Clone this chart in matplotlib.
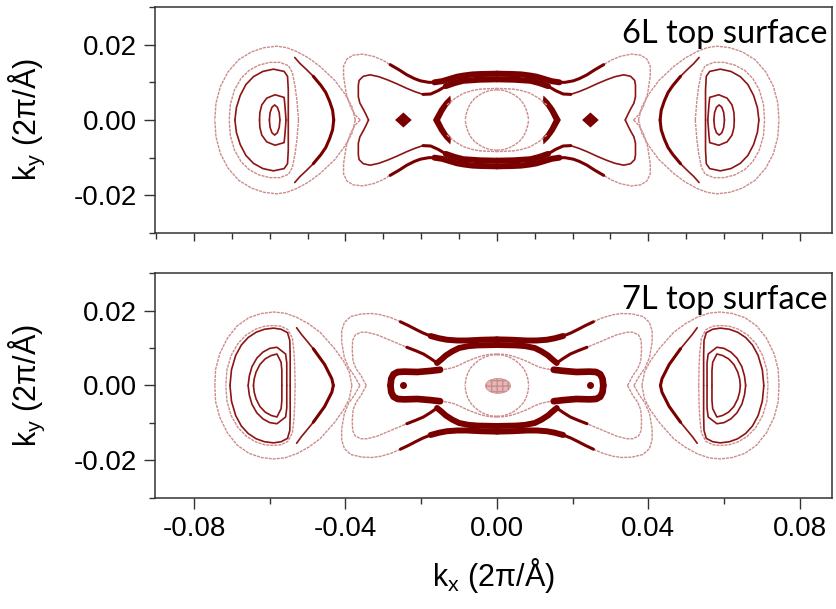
import matplotlib.pyplot as plt
import numpy as np
from matplotlib.patches import Ellipse

plt.rcParams['font.family'] = ['Liberation Sans', 'DejaVu Sans']

# all contour points in units of 1e-3 (2pi/A), upper-left quadrant, mirrored later
panel_labels = ['6L top surface', '7L top surface']

# ---------- 6L ----------
top_pocket_outer = [(-37.4, 0), (-38.3, 3.6), (-40.2, 7.0), (-42.8, 10.5), (-46.7, 14.2), (-49.8, 16.5),
                    (-52.9, 18.2), (-55.5, 19.2), (-58.1, 19.6), (-61.5, 19.2), (-64.8, 18.1), (-68.2, 16.0),
                    (-71.0, 12.8), (-73.0, 9.0), (-74.2, 4.5), (-74.5, 0)]
top_pocket_faint = [(-52.4, 0), (-52.8, 5.0), (-53.3, 8.9), (-54.0, 12.5), (-55.0, 14.4), (-57.3, 15.3),
                    (-60.0, 15.3), (-62.8, 14.6), (-65.4, 13.2), (-67.6, 11.0), (-69.3, 8.0), (-70.4, 4.2),
                    (-70.7, 0)]
top_pocket_ring = [(-55.1, 0), (-55.1, 8.0), (-55.3, 11.6), (-56.2, 12.9), (-59.0, 13.5), (-61.8, 12.9),
                   (-64.3, 11.5), (-66.3, 9.4), (-67.8, 6.5), (-68.8, 3.3), (-69.2, 0)]
top_pocket_small = [(-55.7, 0), (-56.0, 4.0), (-56.2, 6.0), (-58.6, 6.7), (-60.8, 5.8), (-62.1, 4.0),
                    (-62.6, 2.0), (-62.7, 0)]
top_pocket_tiny = [(-57.3, 0), (-57.5, 2.0), (-58.0, 3.4), (-58.7, 4.0), (-59.4, 3.4), (-59.9, 2.0), (-60.1, 0)]
top_arc_thin = [(-53.4, 16.6), (-52.0, 15.0), (-50.3, 13.4), (-48.5, 11.6)]
top_arc_dark = [(-48.5, 11.6), (-46.5, 9.2), (-45.2, 7.3), (-44.2, 5.0), (-43.4, 2.6), (-43.1, 0)]

top_bfly_outer_faint = [(-36.1, 0), (-37.4, 1.3), (-38.7, 3.6), (-39.8, 7.0), (-40.5, 11.6), (-40.5, 14.3),
                        (-39.6, 16.2), (-38.0, 17.2), (-35.5, 17.5), (-32.6, 16.9), (-30.2, 15.9),
                        (-28.2, 14.7)]
top_bfly_outer_dark = [(-28.2, 14.7), (-25.8, 13.3), (-23.8, 12.0), (-21.8, 11.0), (-20.2, 10.4), (-18.0, 10.0),
                       (-16.5, 10.0)]
top_bfly_outer_thick = [(-16.5, 10.0), (-14.5, 10.3), (-12.5, 10.9), (-10.5, 11.5), (-8.8, 11.8), (-6.5, 12.1),
                        (-4.5, 12.2), (0, 12.3)]
top_bfly_mid = [(-33.9, 0), (-34.6, 1.5), (-35.2, 2.7), (-36.2, 4.5), (-36.6, 6.2), (-36.6, 9.2),
                (-36.4, 10.5), (-35.3, 11.6), (-33.5, 12.0), (-31.2, 11.5), (-29.0, 10.7), (-26.4, 9.6),
                (-23.8, 8.4), (-21.6, 7.5), (-19.5, 6.8)]
top_bfly_mid_dark = [(-19.5, 6.8), (-17.5, 6.9), (-15.5, 7.8), (-13.5, 9.0)]
top_bfly_mid_thick = [(-13.5, 9.0), (-11.2, 9.8), (-8.9, 10.4), (-4.5, 10.7), (0, 10.8)]
top_eye_outer = [(-13.2, 4.0), (-11.0, 5.8), (-8.8, 7.1), (-6.6, 7.8), (-4.4, 8.2), (0, 8.4)]
top_eye_circle = [(0, 8.0), (-1.6, 7.9), (-3.2, 7.4), (-4.7, 6.6), (-5.9, 5.7), (-6.9, 4.5), (-7.6, 3.2),
                  (-8.1, 1.6), (-8.4, 0)]
top_crescent = [(-12.3, 6.5), (-13.8, 5.0), (-15.2, 3.1), (-16.9, 0), (-15.0, 0), (-14.0, 2.0), (-13.0, 3.6),
                (-12.1, 4.6)]
top_diamond = [(-26.9, 0), (-24.7, 2.0), (-22.5, 0)]

# ---------- 7L ----------
bot_pocket_outer = [(-38.3, 0), (-39.0, 3.6), (-40.5, 6.5), (-43.0, 10.0), (-46.7, 14.2), (-49.8, 16.5),
                    (-52.9, 18.2), (-56.0, 19.3), (-59.0, 19.6), (-62.2, 19.2), (-65.5, 18.1), (-68.6, 15.9),
                    (-71.2, 12.6), (-73.2, 8.5), (-74.3, 4.3), (-74.5, 0)]
bot_pocket_faint = [(-53.3, 0), (-53.4, 5.0), (-53.6, 8.9), (-54.0, 12.6), (-55.2, 14.9), (-57.0, 15.8),
                    (-59.0, 16.0), (-61.4, 15.8), (-63.8, 15.0), (-66.2, 13.5), (-68.4, 11.2), (-70.2, 8.0),
                    (-71.3, 4.2), (-71.6, 0)]
bot_pocket_ring = [(-54.6, 0), (-54.6, 8.0), (-54.7, 12.0), (-55.3, 14.1), (-57.0, 15.0), (-59.0, 15.3),
                   (-61.4, 15.0), (-63.6, 14.2), (-65.7, 12.8), (-67.5, 10.8), (-69.0, 8.0), (-70.1, 4.2),
                   (-70.5, 0)]
bot_pocket_small = [(-55.5, 0), (-55.5, 6.0), (-55.8, 8.4), (-58.1, 10.2), (-60.0, 9.9), (-61.8, 8.9),
                    (-63.4, 7.3), (-64.7, 5.0), (-65.4, 2.5), (-65.7, 0)]
bot_pocket_inner = [(-56.8, 0), (-56.8, 4.0), (-57.0, 6.2), (-58.1, 8.4), (-59.6, 8.0), (-61.2, 7.1),
                    (-62.6, 5.6), (-63.6, 3.6), (-64.1, 1.8), (-64.3, 0)]
bot_arc_thin = [(-52.9, 15.4), (-51.6, 13.6), (-50.2, 11.9), (-48.5, 9.8)]
bot_arc_dark = [(-48.5, 9.8), (-46.5, 7.0), (-45.5, 5.6), (-44.6, 3.8), (-43.6, 1.8), (-43.2, 0)]

bot_bfly_outer_faint = [(-36.2, 0), (-37.6, 2.5), (-39.2, 4.8), (-40.3, 7.5), (-41.0, 11.6), (-41.0, 14.5),
                        (-40.3, 16.8), (-38.6, 18.4), (-35.7, 19.1), (-33.0, 19.2), (-30.8, 18.9),
                        (-28.0, 18.1), (-25.5, 17.0)]
bot_bfly_outer_dark = [(-25.5, 17.0), (-23.4, 16.0), (-21.5, 15.0), (-19.5, 14.0), (-17.5, 13.2)]
bot_bfly_outer_thick = [(-17.5, 13.2), (-15.3, 12.6), (-13.2, 12.2), (-10.5, 12.0), (-8.0, 12.0), (-4.0, 12.2),
                        (0, 12.3)]
bot_bfly_mid = [(-34.5, 0), (-35.2, 1.3), (-35.8, 2.5), (-37.2, 4.5), (-38.0, 6.5), (-38.2, 9.5),
                (-38.1, 12.0), (-37.4, 13.5), (-35.9, 14.2), (-34.3, 14.2), (-31.6, 13.5), (-29.0, 12.4),
                (-26.4, 11.3), (-23.8, 10.2)]
bot_bfly_mid_dark = [(-23.8, 10.2), (-21.5, 9.3), (-19.4, 8.4), (-17.5, 7.2), (-15.8, 6.0)]
bot_bfly_mid_thick = [(-15.8, 6.0), (-14.6, 7.0), (-13.5, 8.0), (-11.8, 9.1), (-10.0, 10.0), (-7.5, 10.5),
                      (-5.0, 10.7), (0, 10.8)]
bot_dogbone = [(-15.0, 4.2), (-17.5, 3.9), (-21.0, 3.6), (-24.5, 3.7), (-26.2, 3.6), (-27.3, 3.0),
               (-27.9, 1.8), (-28.1, 0)]
bot_eye_outer = [(-15.0, 4.2), (-13.2, 4.4), (-11.5, 4.8), (-9.8, 5.5), (-8.0, 6.4), (-6.0, 7.2), (-4.0, 7.9),
                 (-2.0, 8.3), (0, 8.4)]
bot_eye_circle = [(0, 8.2), (-1.6, 8.1), (-3.2, 7.6), (-4.7, 6.8), (-5.9, 5.8), (-7.0, 4.6), (-7.7, 3.3),
                  (-8.2, 1.7), (-8.4, 0)]
bot_dot = [(-24.7, 0)]
bot_blob = (0.3, -0.1, 6.6, 4.0)  # centre x, centre y, width, height

red = '#7a0000'
faint = dict(color='#cc8c8c', lw=1.0, ls=(0, (2.2, 0.7)))
mid = dict(color='#8c1414', lw=1.2)
dark = dict(color=red, lw=2.2)
thick = dict(color=red, lw=4.3)


def draw4(ax, pts, style):
    p = np.array(pts) * 1e-3
    for sx in (1, -1):
        for sy in (1, -1):
            ax.plot(sx * p[:, 0], sy * p[:, 1], solid_capstyle='round', solid_joinstyle='round', **style)


def fill4(ax, pts):
    p = np.array(pts) * 1e-3
    for sx in (1, -1):
        for sy in (1, -1):
            ax.fill(sx * p[:, 0], sy * p[:, 1], color=red, lw=0)


fig = plt.figure(figsize=(8.37, 6.09), dpi=100)
ax1 = fig.add_axes([0.1852, 0.6174, 0.8088, 0.3711])
ax2 = fig.add_axes([0.1852, 0.1823, 0.8088, 0.3694])

# 6L
for pts in [top_pocket_outer, top_pocket_faint, top_bfly_outer_faint, top_eye_outer, top_eye_circle]:
    draw4(ax1, pts, faint)
for pts in [top_pocket_ring, top_pocket_small, top_pocket_tiny, top_arc_thin, top_bfly_mid]:
    draw4(ax1, pts, mid)
for pts in [top_arc_dark, top_bfly_outer_dark, top_bfly_mid_dark]:
    draw4(ax1, pts, dark)
for pts in [top_bfly_outer_thick, top_bfly_mid_thick]:
    draw4(ax1, pts, thick)
fill4(ax1, top_crescent)
fill4(ax1, top_diamond)

# 7L
for pts in [bot_pocket_outer, bot_pocket_faint, bot_bfly_outer_faint, bot_bfly_mid, bot_eye_outer,
            bot_eye_circle]:
    draw4(ax2, pts, faint)
for pts in [bot_pocket_ring, bot_pocket_small, bot_pocket_inner, bot_arc_thin]:
    draw4(ax2, pts, mid)
for pts in [bot_arc_dark, bot_bfly_outer_dark, bot_bfly_mid_dark]:
    draw4(ax2, pts, dark)
for pts in [bot_bfly_outer_thick, bot_bfly_mid_thick]:
    draw4(ax2, pts, thick)
draw4(ax2, bot_dogbone, dict(color=red, lw=4.8))
for sx in (1, -1):
    ax2.plot(sx * bot_dot[0][0] * 1e-3, bot_dot[0][1] * 1e-3, 'o', color=red, ms=4)
bx, by, bw, bh = bot_blob
ax2.add_patch(Ellipse((bx * 1e-3, by * 1e-3), bw * 1e-3, bh * 1e-3, facecolor='#e2b8b8',
                      edgecolor='#cc8c8c', hatch='+++', lw=0.5))

for ax, label in zip([ax1, ax2], panel_labels):
    ax.set_xlim(-0.0903, 0.0885)
    ax.set_ylim(-0.03, 0.03)
    ax.set_yticks([-0.02, 0.0, 0.02])
    ax.set_yticks([-0.03, -0.01, 0.01, 0.03], minor=True)
    ax.set_yticklabels(['-0.02', '0.00', '0.02'])
    ax.tick_params(which='both', direction='out', labelsize=20, width=1, color='#333333', pad=5)
    ax.tick_params(which='major', length=8)
    ax.tick_params(which='minor', length=4)
    for s in ax.spines.values():
        s.set_color('#333333')
        s.set_linewidth(1.1)
    ax.set_ylabel(r'k$_\mathregular{y}$ (2π/Å)', fontsize=22)
    ax.yaxis.set_label_coords(-0.16, 0.5)
    ax.text(0.993, 0.945, label, transform=ax.transAxes, ha='right', va='top',
            fontsize=23.5, family='Lato')

ax1.set_xticks([-0.08, -0.04, 0.0, 0.04, 0.08])
ax1.set_xticks(np.arange(-9, 9) * 0.01, minor=True)
ax1.set_xticklabels([])
ax1.tick_params(axis='x', which='major', length=6)

ax2.set_xticks([-0.08, -0.04, 0.0, 0.04, 0.08])
ax2.set_xticks([-0.06, -0.02, 0.02, 0.06], minor=True)
ax2.set_xticklabels(['-0.08', '-0.04', '0.00', '0.04', '0.08'])
ax2.set_xlabel(r'k$_\mathregular{x}$ (2π/Å)', fontsize=22)
ax2.xaxis.set_label_coords(0.5, -0.26)

fig.savefig('out.png', dpi=100)
